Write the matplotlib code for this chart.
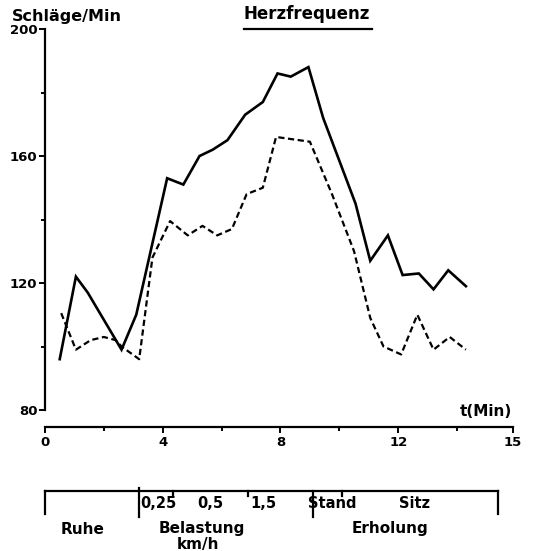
import numpy as np
import matplotlib
matplotlib.use("Agg")
import matplotlib.pyplot as plt
import matplotlib.transforms as mtransforms
from matplotlib.lines import Line2D

# Herzfrequenz, durchgezogen
t_solid = [0.5, 1.05, 1.45, 2.6, 3.1, 4.15, 4.7, 5.25, 5.7, 6.2, 6.8, 7.4, 7.9,
           8.35, 8.95, 9.45, 10.55, 11.05, 11.65, 12.15, 12.7, 13.2, 13.7, 14.3]
hf_solid = [96, 122, 117, 99, 110, 153, 151, 160, 162, 165, 173, 177, 186,
            185, 188, 172, 145, 127, 135, 122.5, 123, 118, 124, 119]

# Herzfrequenz, gestrichelt
t_dash = [0.55, 1.05, 1.55, 2.0, 2.4, 2.6, 3.2, 3.65, 4.25, 4.85, 5.35, 5.85, 6.35,
          6.85, 7.4, 7.85, 9.0, 9.75, 10.5, 11.05, 11.5, 12.1, 12.65, 13.2, 13.75, 14.3]
hf_dash = [110.5, 99, 102, 103, 102, 100, 96, 128, 139.5, 135, 138, 135, 137,
           148, 150, 166, 164.5, 148, 130, 109, 100, 97.5, 110, 99, 103, 99]

x_major = [0, 4, 8, 12]
x_minor = [2, 6, 10, 14]
x_end = 15.9  # Achsenende, beschriftet mit "15"
y_major = [80, 120, 160, 200]
y_minor = [100, 140, 180]

# Phasen unter der Achse
phase_bounds = [0, 3.2, 4.35, 6.9, 9.1, 10.1, 15.4]
speed_labels = ["0,25", "0,5", "1,5", "Stand", "Sitz"]
speed_x = [3.23, 5.61, 7.41, 9.76, 12.55]
phase_labels = ["Ruhe", "Belastung", "Erholung"]
phase_x = [1.26, 5.34, 11.73]

W, H = 555, 551
fig = plt.figure(figsize=(W / 100, H / 100), dpi=100)
ax = fig.add_axes([45 / W, 1 - 410 / H, (513 - 45) / W, (410 - 29) / H])

fw = {"family": "DejaVu Sans", "weight": "bold"}

ax.plot(t_solid, hf_solid, color="black", lw=1.9, solid_joinstyle="miter")
ax.plot(t_dash, hf_dash, color="black", lw=1.6, linestyle=(0, (2.8, 1.6)))

ax.set_xlim(0, x_end)
ax.set_ylim(80, 200)
for s in ["top", "right"]:
    ax.spines[s].set_visible(False)
ax.spines["left"].set_linewidth(1.6)
ax.spines["bottom"].set_linewidth(1.6)
ax.spines["bottom"].set_position(("outward", 12))

ax.set_xticks(x_major + [x_end])
ax.set_xticklabels(["0", "4", "8", "12", "15"], fontdict=fw, fontsize=9.5)
ax.set_xticks(x_minor, minor=True)
ax.set_yticks(y_major)
ax.set_yticklabels([str(v) for v in y_major], fontdict=fw, fontsize=9.5)
ax.set_yticks(y_minor, minor=True)
ax.tick_params(axis="both", which="major", length=4, width=1.4, pad=1.5)
ax.tick_params(axis="both", which="minor", length=3, width=1.4)
ax.tick_params(axis="x", which="major", pad=3)

fig.text(12 / W, 1 - 16 / H, "Schläge/Min", ha="left", va="center", fontsize=11.5, **fw)
ttl = fig.text(307 / W, 1 - 14 / H, "Herzfrequenz", ha="center", va="center", fontsize=12, **fw)
fig.text(512 / W, 1 - 411 / H, "t(Min)", ha="right", va="center", fontsize=11, **fw)

# Unterstreichung des Titels
fig.canvas.draw()
bb = ttl.get_window_extent(fig.canvas.get_renderer())
fig.add_artist(Line2D([bb.x0 / W, (bb.x1 + 2) / W], [1 - 29 / H, 1 - 29 / H],
                      transform=fig.transFigure, color="black", lw=1.6))

# Klammer mit Phasen
tr = mtransforms.blended_transform_factory(ax.transData, fig.transFigure)
yb = 1 - 491 / H
fig.add_artist(Line2D([phase_bounds[0], phase_bounds[-1]], [yb, yb], transform=tr,
                      color="black", lw=1.6, clip_on=False))
tick_down = [23, 26, 5, 5, 26, 5, 23]
tick_up = [0, 3, 0, 0, 0, 0, 0]
for x, dn, up in zip(phase_bounds, tick_down, tick_up):
    fig.add_artist(Line2D([x, x], [yb + up / H, yb - dn / H], transform=tr,
                          color="black", lw=1.6, clip_on=False))

for lab, x in zip(speed_labels, speed_x):
    ha = "left" if lab == "0,25" else "center"
    fig.text(x, 1 - 503 / H, lab, transform=tr, ha=ha, va="center", fontsize=10.5, **fw)
for lab, x in zip(phase_labels, phase_x):
    fig.text(x, 1 - 529 / H, lab, transform=tr, ha="center", va="center", fontsize=11, **fw)
fig.text(5.2, 1 - 544 / H, "km/h", transform=tr, ha="center", va="center", fontsize=11, **fw)

fig.savefig("out.png", dpi=100)
